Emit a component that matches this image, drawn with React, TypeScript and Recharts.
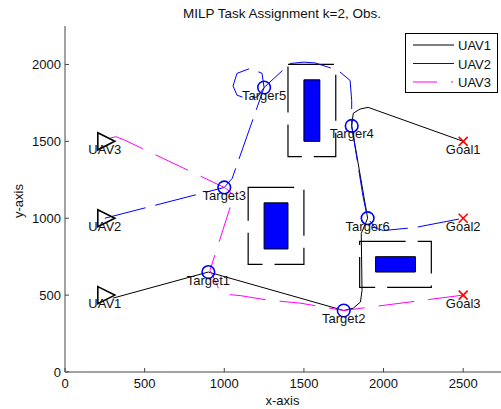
import {
  ComposedChart, Line, Scatter, XAxis, YAxis, ReferenceArea, Legend, Customized,
} from 'recharts';

// Task assignment scene: UAV start points, targets, goals, obstacles
const xTicks = [0, 500, 1000, 1500, 2000, 2500];
const yTicks = [0, 500, 1000, 1500, 2000];

const uavStarts = [
  { x: 250, y: 500, label: 'UAV1' },
  { x: 250, y: 1000, label: 'UAV2' },
  { x: 250, y: 1500, label: 'UAV3' },
];

const targets = [
  { x: 900, y: 650, label: 'Target1' },
  { x: 1750, y: 400, label: 'Target2' },
  { x: 1000, y: 1200, label: 'Target3' },
  { x: 1800, y: 1600, label: 'Targer4' },
  { x: 1250, y: 1850, label: 'Targer5' },
  { x: 1900, y: 1000, label: 'Targer6' },
];

const goals = [
  { x: 2500, y: 1500, label: 'Goal1' },
  { x: 2500, y: 1000, label: 'Goal2' },
  { x: 2500, y: 500, label: 'Goal3' },
];

const obstacles = [
  { x1: 1500, x2: 1600, y1: 1500, y2: 1900 },
  { x1: 1250, x2: 1400, y1: 800, y2: 1100 },
  { x1: 1950, x2: 2200, y1: 650, y2: 750 },
];

const safetyZones = [
  { x1: 1400, x2: 1700, y1: 1400, y2: 2000 },
  { x1: 1150, x2: 1500, y1: 700, y2: 1200 },
  { x1: 1850, x2: 2300, y1: 550, y2: 850 },
];

const uav1Path = [
  [300, 480], [900, 650], [1750, 400], [1810, 415], [1855, 455], [1865, 530],
  [1860, 900], [1900, 1000], [1800, 1600], [1810, 1683], [1853, 1710],
  [1903, 1721], [2500, 1500],
];

const uav2Path = [
  [250, 1000], [1000, 1200], [1050, 1260], [1250, 1850], [1237, 1942],
  [1162, 1974], [1080, 1942], [1055, 1860], [1080, 1800], [1150, 1775],
  [1210, 1790], [1250, 1850], [1413, 2006], [1500, 2015], [1570, 2010],
  [1715, 1961], [1790, 1896], [1800, 1766], [1800, 1600], [1872, 1136],
  [1900, 1000], [1950, 935], [2000, 920], [2200, 940], [2500, 1000],
];

const uav3Path = [
  [280, 1520], [320, 1530], [370, 1510], [1000, 1200], [1040, 1170],
  [1052, 1120], [910, 660], [930, 620], [970, 530], [1010, 505],
  [1100, 497], [1270, 468], [1476, 448], [1750, 400], [2500, 500],
];

const legendItems = [
  { name: 'UAV1', color: '#000000', dash: '' },
  { name: 'UAV2', color: '#0000ff', dash: '' },
  { name: 'UAV3', color: '#ff00ff', dash: '24 14 2 50' },
];

const toPts = (p: number[][]) => p.map(([x, y]) => ({ x, y }));

const FONT = '"Liberation Sans", Arial, sans-serif';
const AXIS = '#444';

const XTick = ({ x, y, payload }: any) => (
  <g>
    <line x1={x} y1={y} x2={x} y2={y - 4} stroke={AXIS} />
    <text x={x} y={y + 16} textAnchor="middle" fontSize={13} fontFamily={FONT} fill="#111">
      {payload.value}
    </text>
  </g>
);

const YTick = ({ x, y, payload }: any) => (
  <g>
    <line x1={x} y1={y} x2={x + 4} y2={y} stroke={AXIS} />
    <text x={x - 4} y={y + 4.5} textAnchor="end" fontSize={13} fontFamily={FONT} fill="#111">
      {payload.value}
    </text>
  </g>
);

const Label = ({ cx, cy, text }: any) => (
  <text x={cx} y={cy + 12.5} textAnchor="middle" fontSize={13} fontFamily={FONT} fill="#111">
    {text}
  </text>
);

const Triangle = (props: any) => {
  const { cx, cy, payload } = props;
  return (
    <g>
      <polygon
        points={`${cx - 7},${cy - 8.5} ${cx + 10},${cy} ${cx - 7},${cy + 8.5}`}
        fill="none" stroke="#000" strokeWidth={1.6}
      />
      <Label cx={cx} cy={cy} text={payload.label} />
    </g>
  );
};

const Circle = (props: any) => {
  const { cx, cy, payload } = props;
  return (
    <g>
      <circle cx={cx} cy={cy} r={6.3} fill="none" stroke="#0000ff" strokeWidth={1.6} />
      <Label cx={cx} cy={cy} text={payload.label} />
    </g>
  );
};

const Cross = (props: any) => {
  const { cx, cy, payload } = props;
  return (
    <g>
      <line x1={cx - 4.5} y1={cy - 4.5} x2={cx + 4.5} y2={cy + 4.5} stroke="#ff0000" strokeWidth={1.6} />
      <line x1={cx - 4.5} y1={cy + 4.5} x2={cx + 4.5} y2={cy - 4.5} stroke="#ff0000" strokeWidth={1.6} />
      <Label cx={cx} cy={cy} text={payload.label} />
    </g>
  );
};

const LegendBox = () => (
  <div style={{ width: 93, height: 60, border: '1px solid #000', background: '#fff', boxSizing: 'border-box' }}>
    <svg width={91} height={58}>
      {legendItems.map((it, i) => (
        <g key={it.name}>
          <line x1={7} x2={48} y1={11 + i * 18.5} y2={11 + i * 18.5} stroke={it.color} strokeDasharray={it.dash || undefined} />
          <text x={52} y={16 + i * 18.5} fontSize={13} fontFamily={FONT} fill="#111">{it.name}</text>
        </g>
      ))}
    </svg>
  </div>
);

const Titles = () => (
  <g fontFamily={FONT} fill="#111">
    <text x={282} y={18} textAnchor="middle" fontSize={13.5}>MILP Task Assignment k=2, Obs.</text>
    <text x={282.5} y={405} textAnchor="middle" fontSize={13}>x-axis</text>
    <text x={23} y={201} textAnchor="middle" fontSize={13} transform="rotate(-90 23 201)">y-axis</text>
  </g>
);

export default function App() {
  return (
    <div style={{ position: 'absolute', left: 0, top: 0, width: 501, height: 409, overflow: 'hidden', background: '#fff' }}>
      <ComposedChart width={503} height={409} margin={{ top: 26, right: 0, bottom: 7, left: 8 }}>
        <XAxis
          type="number" dataKey="x" domain={[0, 2750]} ticks={xTicks} allowDataOverflow
          tickSize={0} tickMargin={0} tick={<XTick />} axisLine={{ stroke: AXIS }} height={30}
        />
        <YAxis
          type="number" dataKey="y" domain={[0, 2250]} ticks={yTicks} allowDataOverflow
          tickSize={0} tickMargin={0} tick={<YTick />} axisLine={{ stroke: AXIS }} width={57}
        />
        {safetyZones.map((z, i) => (
          <ReferenceArea
            key={`z${i}`} x1={z.x1} x2={z.x2} y1={z.y1} y2={z.y2}
            fill="none" fillOpacity={0} stroke="#000" strokeWidth={1.2} strokeDasharray="46 12"
          />
        ))}
        {obstacles.map((o, i) => (
          <ReferenceArea
            key={`o${i}`} x1={o.x1} x2={o.x2} y1={o.y1} y2={o.y2}
            fill="#0000ff" fillOpacity={1} stroke="#000" strokeWidth={1}
          />
        ))}
        <Line data={toPts(uav1Path)} dataKey="y" type="linear" stroke="#000" strokeWidth={1}
          dot={false} activeDot={false} isAnimationActive={false} name="UAV1" />
        <Line data={toPts(uav2Path)} dataKey="y" type="linear" stroke="#0000ff" strokeWidth={1}
          strokeDasharray="42 10" dot={false} activeDot={false} isAnimationActive={false} name="UAV2" />
        <Line data={toPts(uav3Path)} dataKey="y" type="linear" stroke="#ff00ff" strokeWidth={1}
          strokeDasharray="36 14" dot={false} activeDot={false} isAnimationActive={false} name="UAV3" />
        <Scatter data={uavStarts} shape={<Triangle />} isAnimationActive={false} />
        <Scatter data={targets} shape={<Circle />} isAnimationActive={false} />
        <Scatter data={goals} shape={<Cross />} isAnimationActive={false} />
        <Legend
          layout="horizontal" verticalAlign="middle" align="center" width={93} height={60}
          wrapperStyle={{ left: 405, top: 33 }} content={() => <LegendBox />}
        />
        <Customized component={<Titles />} />
      </ComposedChart>
    </div>
  );
}
